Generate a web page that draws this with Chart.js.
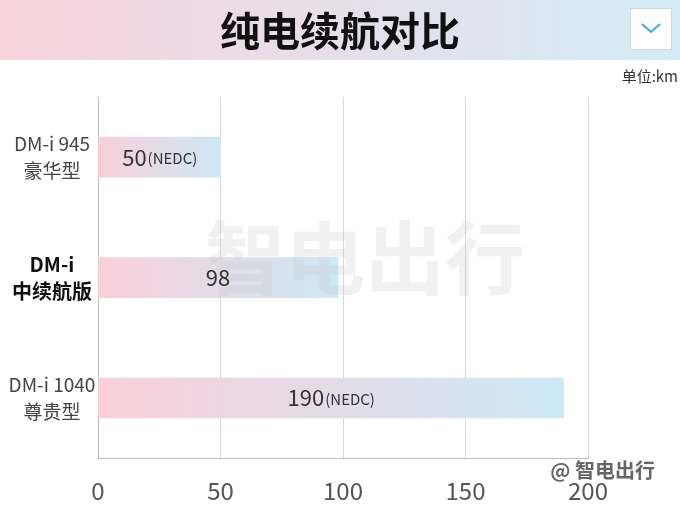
<!DOCTYPE html>
<html><head><meta charset="utf-8">
<script src="https://cdn.jsdelivr.net/npm/chart.js@4"></script>
<style>html,body{margin:0;padding:0;background:#fff}#w{position:relative;width:680px;height:511px}</style>
</head><body><div id="w"><canvas id="c" width="680" height="511"></canvas></div>
<script>
const title = "纯电续航对比";
const unit = "单位:km";
const categories = [["DM-i 945","豪华型"],["DM-i","中续航版"],["DM-i 1040","尊贵型"]];
const values = [50, 98, 190];
const valueMain = ["50", "98", "190"];
const valueNote = ["(NEDC)", "", "(NEDC)"];
const xTicks = [0, 50, 100, 150, 200];
const F = "'Noto Sans CJK SC','Noto Sans',sans-serif";

const deco = {
  id:'deco',
  beforeDraw(chart){
    const ctx = chart.ctx;
    const g = ctx.createLinearGradient(0,0,680,0);
    g.addColorStop(0,'#f8d3dc'); g.addColorStop(1,'#d3ebf7');
    ctx.save();
    ctx.fillStyle=g; ctx.fillRect(0,0,680,60);
    ctx.fillStyle='#fff'; ctx.strokeStyle='#cfd8e0'; ctx.lineWidth=1;
    ctx.fillRect(630,8,42,42); ctx.strokeRect(630.5,8.5,41,41);
    ctx.strokeStyle='#3fa9e0'; ctx.lineWidth=2;
    ctx.beginPath(); ctx.moveTo(642,24); ctx.lineTo(651,32); ctx.lineTo(660,24); ctx.stroke();
    ctx.fillStyle='#111'; ctx.font="bold 40px "+F; ctx.textAlign='center'; ctx.textBaseline='middle';
    ctx.fillText(title,340,31);
    ctx.fillStyle='#333'; ctx.font="15px "+F; ctx.textAlign='right';
    ctx.fillText(unit,678,76);
    ctx.restore();
  },
  afterDatasetsDraw(chart){
    const ctx=chart.ctx, meta=chart.getDatasetMeta(0), y=chart.scales.y;
    ctx.save();
    ctx.fillStyle='rgba(200,200,200,0.25)'; ctx.font="bold 80px "+F; ctx.textAlign='center'; ctx.textBaseline='middle';
    ctx.fillText('智电出行',365,258);
    meta.data.forEach((b,i)=>{
      ctx.font="22px "+F; const m=ctx.measureText(valueMain[i]).width;
      ctx.font="15px "+F; const n=ctx.measureText(valueNote[i]).width;
      const cx=(chart.chartArea.left+b.x)/2, x0=cx-(m+n)/2;
      ctx.fillStyle='#333'; ctx.textAlign='left'; ctx.textBaseline='middle';
      ctx.font="22px "+F; ctx.fillText(valueMain[i],x0,b.y);
      ctx.font="15px "+F; ctx.fillText(valueNote[i],x0+m+1,b.y+1);
      const ly=y.getPixelForValue(i);
      ctx.textAlign='center';
      ctx.font=(i===1?"bold 20px ":"19px ")+F; ctx.fillStyle=i===1?'#111':'#444';
      ctx.fillText(categories[i][0],52,ly-13);
      ctx.fillText(categories[i][1],52,ly+14);
    });
    ctx.fillStyle='#666'; ctx.font="bold 20px "+F; ctx.textAlign='right';
    ctx.fillText('@ 智电出行',655,470);
    ctx.restore();
  }
};

new Chart(document.getElementById('c'),{
  type:'bar',
  data:{labels:categories.map(c=>c.join(' ')),datasets:[{data:values,barThickness:40,
    backgroundColor(ctx){
      const ch=ctx.chart; if(!ch.chartArea) return '#f8d3dc';
      const x0=ch.chartArea.left, x1=ch.scales.x.getPixelForValue(ctx.raw);
      const g=ch.ctx.createLinearGradient(x0,0,x1,0);
      g.addColorStop(0,'#f9cfd9'); g.addColorStop(1,'#cde8f6'); return g;
    }}]},
  options:{indexAxis:'y',responsive:false,animation:false,
    layout:{padding:{left:90,right:92,top:97,bottom:-12}},
    plugins:{legend:{display:false},tooltip:{enabled:false}},
    scales:{
      x:{min:0,max:200,afterBuildTicks(s){s.ticks=xTicks.map(v=>({value:v}));},
        grid:{color:'#d8d8d8',drawTicks:false},border:{color:'#bbb'},
        ticks:{color:'#555',font:{size:24,family:F},padding:18}},
      y:{grid:{display:false},border:{color:'#bbb'},ticks:{display:false}}
    }},
  plugins:[deco]
});
</script></body></html>
